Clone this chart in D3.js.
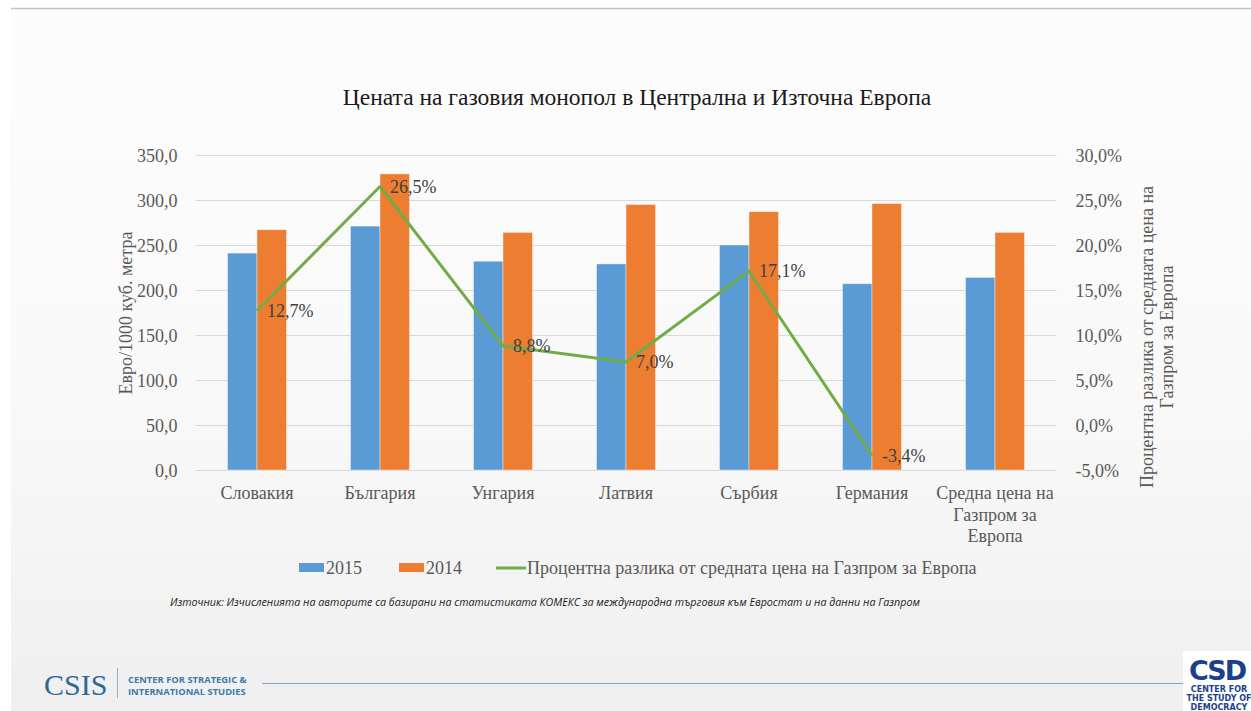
<!DOCTYPE html>
<html>
<head>
<meta charset="utf-8">
<script src="https://cdn.jsdelivr.net/npm/d3@7"></script>
<style>
  body { margin: 0; background: #fff; }
  svg text { font-family: "Liberation Serif", "Times New Roman", serif; }
</style>
</head>
<body>
<svg id="chart" width="1251" height="711"></svg>
<script>
var categories = ["Словакия", "България", "Унгария", "Латвия", "Сърбия", "Германия", "Средна цена на Газпром за Европа"];
var seriesNames = ["2015", "2014"];
var values2015 = [241, 271, 232, 229, 250, 207, 214];
var values2014 = [267, 329, 264, 295, 287, 296, 264];
var lineName = "Процентна разлика от средната цена на Газпром за Европа";
var pctDiff = [12.7, 26.5, 8.8, 7.0, 17.1, -3.4];
var leftTicks = [0, 50, 100, 150, 200, 250, 300, 350];
var rightTicks = [-5, 0, 5, 10, 15, 20, 25, 30];

var colors = { "2015": "#5b9bd5", "2014": "#ed7d31", line: "#70ad47" };

var svg = d3.select("#chart");
var W = 1251, H = 711;

// slide background
var defs = svg.append("defs");
var grad = defs.append("linearGradient").attr("id", "bg").attr("x1", 0).attr("y1", 0).attr("x2", 0).attr("y2", 1);
grad.append("stop").attr("offset", "0%").attr("stop-color", "#fdfdfd");
grad.append("stop").attr("offset", "60%").attr("stop-color", "#f8f8f8");
grad.append("stop").attr("offset", "100%").attr("stop-color", "#efefef");
svg.append("rect").attr("x", 11).attr("y", 9).attr("width", W - 11).attr("height", H - 9).attr("fill", "url(#bg)");
svg.append("line").attr("x1", 11).attr("x2", W).attr("y1", 8.5).attr("y2", 8.5).attr("stroke", "#c4c4c4").attr("stroke-width", 1.5);

var pLeft = 195.5, pRight = 1056.5, pTop = 155, pBottom = 470;

var x0 = d3.scaleBand().domain(categories).range([pLeft, pRight]).padding(0);
var groupW = x0.bandwidth() * 0.48;
var x1 = d3.scaleBand().domain(seriesNames).range([0, groupW]).padding(0);
var yL = d3.scaleLinear().domain([0, 350]).range([pBottom, pTop]);
var yR = d3.scaleLinear().domain([-5, 30]).range([pBottom, pTop]);

var fmt = d3.formatLocale({ decimal: ",", thousands: " ", grouping: [3], currency: ["", ""], minus: "-" });
var f1 = fmt.format(".1f");

// title
svg.append("text")
  .attr("x", 637).attr("y", 105)
  .attr("text-anchor", "middle")
  .attr("font-size", 23.5)
  .attr("fill", "#1a1a1a")
  .text("Цената на газовия монопол в Централна и Източна Европа");

// gridlines
svg.append("g").selectAll("line")
  .data(leftTicks)
  .join("line")
  .attr("x1", pLeft).attr("x2", pRight)
  .attr("y1", d => yL(d) + 0.5).attr("y2", d => yL(d) + 0.5)
  .attr("stroke", "#d9d9d9").attr("stroke-width", 1.2);

// left axis
var axL = svg.append("g")
  .attr("transform", "translate(" + (pLeft - 15) + ",0)")
  .call(d3.axisLeft(yL).tickValues(leftTicks).tickSize(0).tickFormat(f1));
axL.select(".domain").remove();
axL.selectAll("text").attr("font-size", 18).attr("fill", "#595959").attr("dy", "0.34em");

// right axis
var axR = svg.append("g")
  .attr("transform", "translate(" + (pRight + 16) + ",0)")
  .call(d3.axisRight(yR).tickValues(rightTicks).tickSize(0).tickFormat(d => f1(d) + "%"));
axR.select(".domain").remove();
axR.selectAll("text").attr("font-size", 18).attr("fill", "#595959").attr("dy", "0.34em");

// axis titles
svg.append("text")
  .attr("transform", "translate(132,313) rotate(-90)")
  .attr("text-anchor", "middle")
  .attr("font-size", 18).attr("fill", "#595959")
  .text("Евро/1000 куб. метра");

var rt = svg.append("text")
  .attr("transform", "translate(1153,337) rotate(-90)")
  .attr("text-anchor", "middle")
  .attr("font-size", 18).attr("fill", "#595959");
rt.append("tspan").attr("x", 0).attr("y", 0).text("Процентна разлика от средната цена на");
rt.append("tspan").attr("x", 0).attr("y", 20).text("Газпром за Европа");

// bars
var rows = categories.map((c, i) => ({ cat: c, "2015": values2015[i], "2014": values2014[i] }));
var groups = svg.append("g").selectAll("g")
  .data(rows)
  .join("g")
  .attr("transform", d => "translate(" + (x0(d.cat) + (x0.bandwidth() - groupW) / 2) + ",0)");
groups.selectAll("rect")
  .data(d => seriesNames.map(s => ({ s: s, v: d[s] })))
  .join("rect")
  .attr("x", d => x1(d.s))
  .attr("width", x1.bandwidth())
  .attr("y", d => yL(d.v))
  .attr("height", d => yL(0) - yL(d.v))
  .attr("fill", d => colors[d.s])
  .attr("stroke", "#ffffff").attr("stroke-opacity", 0.5).attr("stroke-width", 0.8);

// x labels
var xl = svg.append("g").selectAll("text")
  .data(categories)
  .join("text")
  .attr("y", 499)
  .attr("text-anchor", "middle")
  .attr("font-size", 18).attr("fill", "#595959");
xl.each(function (d) {
  var lines = d === "Средна цена на Газпром за Европа" ? ["Средна цена на", "Газпром за", "Европа"] : [d];
  var t = d3.select(this);
  lines.forEach((l, i) => t.append("tspan").attr("x", x0(d) + x0.bandwidth() / 2).attr("dy", i ? 21.5 : 0).text(l));
});

// line
var pts = pctDiff.map((v, i) => ({ cat: categories[i], v: v }));
var lineGen = d3.line().x(d => x0(d.cat) + x0.bandwidth() / 2).y(d => yR(d.v));
svg.append("path")
  .datum(pts)
  .attr("d", lineGen)
  .attr("fill", "none")
  .attr("stroke", colors.line)
  .attr("stroke-width", 3)
  .attr("stroke-linejoin", "round");

svg.append("g").selectAll("text")
  .data(pts)
  .join("text")
  .attr("x", d => x0(d.cat) + x0.bandwidth() / 2 + 10)
  .attr("y", d => yR(d.v) + 6)
  .attr("font-size", 18).attr("fill", "#404040")
  .text(d => f1(d.v) + "%");

// legend
var lg = svg.append("g").attr("transform", "translate(0,568)");
var legendItems = [
  { key: "2015", label: "2015", x: 299, type: "rect" },
  { key: "2014", label: "2014", x: 399, type: "rect" },
  { key: "line", label: lineName, x: 496, type: "line" }
];
legendItems.forEach(it => {
  if (it.type === "rect") {
    lg.append("rect").attr("x", it.x).attr("y", -5).attr("width", 25).attr("height", 9).attr("fill", colors[it.key]);
  } else {
    lg.append("line").attr("x1", it.x).attr("x2", it.x + 30).attr("y1", 0).attr("y2", 0)
      .attr("stroke", colors.line).attr("stroke-width", 3);
  }
  lg.append("text").attr("x", it.x + (it.type === "rect" ? 27 : 31)).attr("y", 6)
    .attr("font-size", 18).attr("fill", "#595959").text(it.label);
});

// source
svg.append("text")
  .attr("x", 170).attr("y", 606)
  .attr("font-size", 10.7)
  .attr("font-style", "italic")
  .style("font-family", "'Open Sans', 'DejaVu Sans', sans-serif")
  .attr("fill", "#1a1a1a")
  .text("Източник: Изчисленията на авторите са базирани на статистиката КОМЕКС за международна търговия към Евростат и на данни на Газпром");

// footer: CSIS
var blue = "#2b6a96";
svg.append("text").attr("x", 44).attr("y", 695).attr("font-size", 30).attr("fill", blue).text("CSIS");
svg.append("line").attr("x1", 117.5).attr("x2", 117.5).attr("y1", 668).attr("y2", 698).attr("stroke", "#8fb0c9").attr("stroke-width", 1);
var cs = svg.append("text").style("font-family", "'Open Sans', sans-serif").attr("font-weight", "bold").attr("font-size", 9.4).attr("fill", "#3d7bab");
cs.append("tspan").attr("x", 128).attr("y", 683).text("CENTER FOR STRATEGIC &");
cs.append("tspan").attr("x", 128).attr("y", 695).text("INTERNATIONAL STUDIES");
svg.append("line").attr("x1", 262).attr("x2", 1185).attr("y1", 683.5).attr("y2", 683.5).attr("stroke", "#7ea6c8").attr("stroke-width", 1);

// footer: CSD
svg.append("rect").attr("x", 1183).attr("y", 651).attr("width", 68).attr("height", 60).attr("fill", "#ffffff");
svg.append("text").attr("x", 1217).attr("y", 680).attr("text-anchor", "middle")
  .style("font-family", "'DejaVu Sans', sans-serif").attr("font-weight", "bold").attr("font-size", 27)
  .attr("fill", "#1c3f8c").attr("letter-spacing", -2).text("CSD");
var cd = svg.append("text").attr("text-anchor", "middle").style("font-family", "'DejaVu Sans', sans-serif")
  .attr("font-weight", "bold").attr("font-size", 8).attr("fill", "#1c3f8c");
cd.append("tspan").attr("x", 1219).attr("y", 692).text("CENTER FOR");
cd.append("tspan").attr("x", 1219).attr("y", 701).text("THE STUDY OF");
cd.append("tspan").attr("x", 1219).attr("y", 710).text("DEMOCRACY");
</script>
</body>
</html>
